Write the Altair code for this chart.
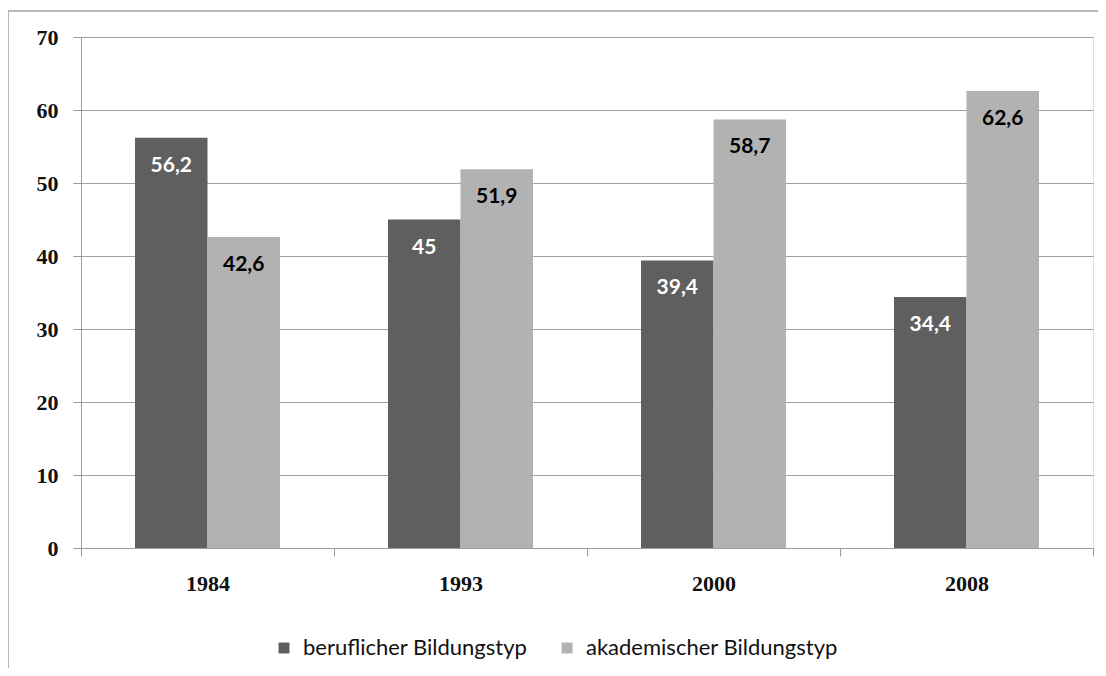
import altair as alt
import pandas as pd

years = ["1984", "1993", "2000", "2008"]
beruflich = [56.2, 45, 39.4, 34.4]
akademisch = [42.6, 51.9, 58.7, 62.6]
series = ["beruflicher Bildungstyp", "akademischer Bildungstyp"]
bar_colors = ["#5f5f5f", "#b2b2b2"]
y_ticks = [0, 10, 20, 30, 40, 50, 60, 70]

rows = []
for i, yr in enumerate(years):
    rows.append({"year": yr, "series": series[0], "value": beruflich[i]})
    rows.append({"year": yr, "series": series[1], "value": akademisch[i]})
df = pd.DataFrame(rows)

x = alt.X(
    "year:N", sort=years,
    scale=alt.Scale(paddingInner=0, paddingOuter=0),
    axis=alt.Axis(title=None, labelAngle=0, tickBand="extent", tickSize=8,
                  labelPadding=17, labelFont="Liberation Serif", labelFontWeight="bold",
                  labelFontSize=22, labelColor="#111", domainColor="#9a9a9a",
                  tickColor="#9a9a9a", grid=False),
)
xo = alt.XOffset("series:N", sort=series,
                 scale=alt.Scale(paddingOuter=0.745, paddingInner=0))
y = alt.Y(
    "value:Q", scale=alt.Scale(domain=[0, 70], nice=False),
    axis=alt.Axis(values=y_ticks, title=None, grid=True, gridColor="#a0a0a0",
                  tickSize=8, labelPadding=15, labelFont="Liberation Serif",
                  labelFontWeight="bold", labelFontSize=22, labelColor="#111",
                  domainColor="#9a9a9a", tickColor="#9a9a9a"),
)

bars = alt.Chart(df).mark_bar().encode(
    x=x, xOffset=xo, y=y,
    color=alt.Color("series:N", sort=series,
                    scale=alt.Scale(domain=series, range=bar_colors),
                    legend=alt.Legend(orient="none", legendX=192, legendY=600,
                                      direction="horizontal", title=None,
                                      symbolType="square", symbolSize=120,
                                      symbolStrokeWidth=0, labelFont="Lato",
                                      labelFontSize=22, labelColor="#111",
                                      columnPadding=28, labelOffset=8, labelLimit=400)),
)

labels = alt.Chart(df).transform_calculate(
    label="replace(toString(datum.value), '.', ',')"
).mark_text(dy=28, font="Lato", fontWeight="bold", fontSize=21, baseline="middle").encode(
    x=x, xOffset=xo, y=y,
    text="label:N",
    color=alt.condition(alt.datum.series == series[0], alt.value("white"), alt.value("black")),
)

frame_df = pd.DataFrame({"a": [0]})
top_line = alt.Chart(frame_df).mark_rule(color="#a0a0a0", strokeWidth=1.5).encode(
    x=alt.value(-73), x2=alt.value(1100), y=alt.value(-26))
left_line = alt.Chart(frame_df).mark_rule(color="#a0a0a0", strokeWidth=1.5).encode(
    x=alt.value(-73), y=alt.value(-26), y2=alt.value(700))

chart = alt.layer(top_line, left_line, bars, labels).properties(
    width=1012, height=511,
    autosize=alt.AutoSizeParams(type="none"),
    padding={"left": 73, "top": 29, "right": 5, "bottom": 120},
).configure_view(stroke=None).configure(background="white")

chart.save("out.html", embed_options={"renderer": "svg", "actions": False})
